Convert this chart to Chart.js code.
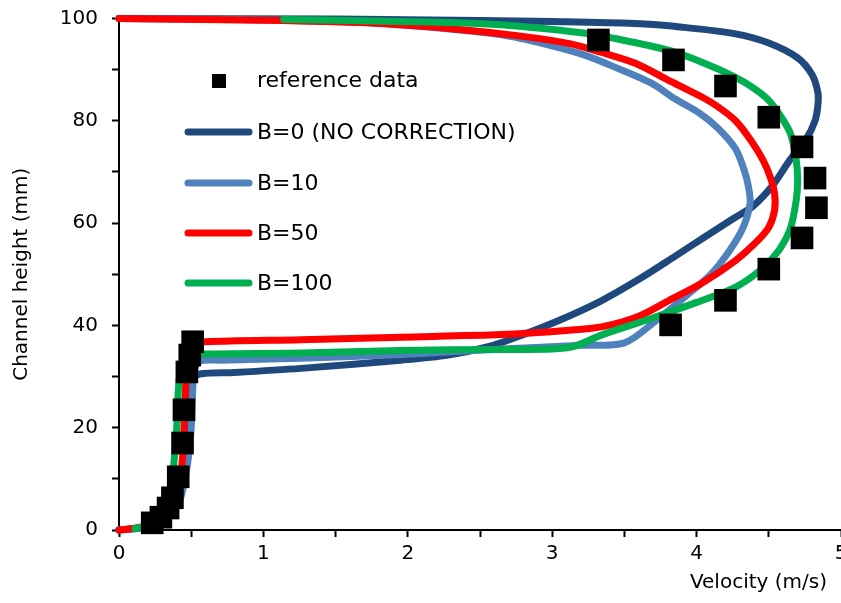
<!DOCTYPE html>
<html>
<head>
<meta charset="utf-8">
<script src="https://cdn.jsdelivr.net/npm/chart.js@4.4.1/dist/chart.umd.min.js"></script>
<style>
  body { margin: 0; background: #fff; overflow: hidden; }
  canvas { display: block; }
</style>
</head>
<body>
<canvas id="profile_chart" width="857" height="603"></canvas>
<script>
// reference data (squares)
var refVel    = [0.23, 0.29, 0.34, 0.37, 0.41, 0.44, 0.45, 0.47, 0.49, 0.51, 3.82, 4.20, 4.50, 4.73, 4.83, 4.82, 4.73, 4.50, 4.20, 3.84, 3.32];
var refHeight = [1.4, 2.5, 4.3, 6.3, 10.4, 17.0, 23.5, 30.9, 34.2, 36.8, 40.1, 44.9, 51.0, 57.1, 63.0, 68.8, 74.9, 80.7, 86.8, 91.9, 95.8];

// B=0 (no correction)
var b0Vel    = [0, 0.14, 0.24, 0.32, 0.39, 0.43, 0.46, 0.48, 0.49, 0.50, 0.56, 0.80, 1.26, 1.95, 2.28, 2.55, 2.79, 3.05, 3.34, 3.60, 3.85, 4.04, 4.25, 4.39, 4.53, 4.65, 4.76, 4.82, 4.84, 4.84, 4.80, 4.70, 4.50, 4.27, 3.90, 3.57, 3.00, 2.50, 1.50, 0];
var b0Height = [0, 0.4, 1.0, 2.4, 5.0, 9.0, 14.0, 20.0, 26.0, 29.3, 30.5, 30.8, 31.6, 33.2, 34.2, 35.8, 38.1, 41.0, 44.8, 49.0, 53.5, 57.0, 60.8, 63.3, 67.5, 72.5, 76.5, 80.0, 83.0, 85.5, 89.0, 92.3, 95.2, 97.0, 98.3, 99.0, 99.4, 99.6, 99.9, 100];

// B=10
var b10Vel    = [0, 0.15, 0.25, 0.33, 0.41, 0.45, 0.48, 0.50, 0.51, 0.52, 0.56, 0.70, 1.26, 1.95, 2.65, 3.20, 3.50, 3.70, 3.95, 4.10, 4.23, 4.32, 4.37, 4.36, 4.33, 4.27, 4.15, 4.02, 3.85, 3.69, 3.45, 3.23, 2.95, 2.65, 2.20, 1.60, 0.80, 0];
var b10Height = [0, 0.4, 1.0, 2.5, 5.0, 9.0, 14.0, 20.0, 27.0, 31.0, 33.0, 33.2, 33.6, 34.3, 35.4, 36.1, 36.6, 40.5, 46.3, 50.0, 54.7, 59.0, 63.8, 67.0, 70.3, 74.5, 78.5, 81.5, 84.3, 87.3, 90.3, 92.8, 95.0, 96.8, 98.2, 99.3, 99.8, 100];

// B=50
var b50Vel    = [0, 0.12, 0.22, 0.30, 0.37, 0.41, 0.44, 0.45, 0.46, 0.47, 0.50, 0.60, 1.26, 1.95, 2.65, 3.10, 3.34, 3.60, 3.81, 4.05, 4.27, 4.42, 4.50, 4.54, 4.54, 4.51, 4.46, 4.38, 4.27, 4.15, 4.04, 3.80, 3.58, 3.35, 3.12, 2.77, 2.30, 1.70, 1.14, 0];
var b50Height = [0, 0.4, 1.0, 2.2, 4.5, 8.0, 14.0, 20.0, 27.0, 33.0, 36.3, 36.8, 37.2, 37.7, 38.2, 39.0, 39.7, 41.8, 44.9, 48.5, 52.7, 56.5, 59.2, 62.5, 65.8, 69.0, 72.3, 76.0, 80.0, 82.7, 84.6, 88.0, 91.2, 93.3, 95.1, 96.6, 98.0, 99.2, 99.6, 100];

// B=100
var b100Vel    = [0.11, 0.20, 0.28, 0.33, 0.36, 0.38, 0.40, 0.41, 0.43, 0.47, 0.60, 1.26, 1.95, 2.65, 3.00, 3.15, 3.34, 3.69, 4.00, 4.27, 4.45, 4.57, 4.65, 4.69, 4.70, 4.69, 4.65, 4.58, 4.50, 4.40, 4.27, 4.05, 3.81, 3.50, 3.23, 2.77, 2.30, 1.60, 1.14];
var b100Height = [0.3, 0.8, 2.0, 4.0, 8.0, 13.0, 20.0, 27.0, 32.0, 34.0, 34.4, 34.6, 35.1, 35.3, 35.4, 35.9, 38.1, 41.4, 44.5, 47.5, 51.0, 54.7, 59.0, 64.5, 68.4, 72.3, 77.5, 81.0, 84.0, 86.3, 88.5, 91.3, 93.75, 95.7, 97.1, 98.5, 99.2, 99.6, 99.8];

var seriesNames = ['reference data', 'B=0 (NO CORRECTION)', 'B=10', 'B=50', 'B=100'];
var seriesColors = ['#000000', '#1F497D', '#4F81BD', '#FF0000', '#00B050'];

function pts(xs, ys) {
    return xs.map(function (x, i) { return {x: x, y: ys[i]}; });
}

function lineSet(label, color, xs, ys, order) {
    return {
        label: label,
        data: pts(xs, ys),
        showLine: true,
        borderColor: color,
        backgroundColor: color,
        borderWidth: 7,
        pointRadius: 0,
        tension: 0.3,
        borderCapStyle: 'round',
        borderJoinStyle: 'round',
        clip: false,
        order: order
    };
}

// legend drawn inside the plot, like the original
var insideLegend = {
    id: 'insideLegend',
    afterDraw: function (chart) {
        var c = chart.ctx;
        c.save();
        c.font = '22px "DejaVu Sans"';
        c.textBaseline = 'middle';
        c.textAlign = 'left';
        c.fillStyle = '#000';
        c.fillRect(212, 74, 14, 14);
        c.fillText(seriesNames[0], 257, 81);
        var ys = [132, 183, 233, 283];
        for (var i = 1; i < seriesNames.length; i++) {
            c.strokeStyle = seriesColors[i];
            c.lineWidth = 7;
            c.lineCap = 'round';
            c.beginPath();
            c.moveTo(188, ys[i - 1]);
            c.lineTo(249, ys[i - 1]);
            c.stroke();
            c.fillText(seriesNames[i], 257, ys[i - 1] + 1);
        }
        // x axis title, right aligned under the axis end
        c.font = '20px "DejaVu Sans"';
        c.textAlign = 'right';
        c.fillText('Velocity (m/s)', 827, 583);
        c.restore();
    }
};

var ctx = document.getElementById("profile_chart").getContext('2d');
var myChart = new Chart(ctx, {
    type: 'scatter',
    data: {
        datasets: [
            {
                label: seriesNames[0],
                data: pts(refVel, refHeight),
                pointStyle: 'rect',
                pointRadius: 16,
                pointHoverRadius: 16,
                backgroundColor: '#000',
                borderColor: '#000',
                borderWidth: 0,
                clip: false,
                order: 0
            },
            lineSet(seriesNames[1], seriesColors[1], b0Vel, b0Height, 4),
            lineSet(seriesNames[2], seriesColors[2], b10Vel, b10Height, 3),
            lineSet(seriesNames[3], seriesColors[3], b50Vel, b50Height, 2),
            lineSet(seriesNames[4], seriesColors[4], b100Vel, b100Height, 1)
        ]
    },
    options: {
        responsive: false,
        animation: false,
        layout: {
            padding: {top: 18.5, right: 1, left: 0, bottom: 0}
        },
        plugins: {
            legend: {display: false},
            tooltip: {enabled: false}
        },
        scales: {
            x: {
                type: 'linear',
                min: 0,
                max: 5,
                afterFit: function (s) { s.height = 73; s.paddingLeft = 0; s.paddingRight = 0; },
                ticks: {
                    stepSize: 0.5,
                    autoSkip: false,
                    maxRotation: 0,
                    padding: 5,
                    color: '#000',
                    font: {family: 'DejaVu Sans', size: 20},
                    callback: function (v) { return Number.isInteger(v) ? v : ''; }
                },
                grid: {
                    drawOnChartArea: false,
                    tickLength: 7,
                    tickColor: '#000',
                    tickWidth: 2
                },
                border: {color: '#000', width: 2}
            },
            y: {
                type: 'linear',
                min: 0,
                max: 100,
                afterFit: function (s) { s.width = 119; s.paddingTop = 0; s.paddingBottom = 0; },
                ticks: {
                    stepSize: 10,
                    autoSkip: false,
                    padding: 14,
                    color: '#000',
                    font: {family: 'DejaVu Sans', size: 20},
                    callback: function (v) { return v % 20 === 0 ? v : ''; }
                },
                grid: {
                    drawOnChartArea: false,
                    tickLength: 7,
                    tickColor: '#000',
                    tickWidth: 2
                },
                border: {color: '#000', width: 2},
                title: {
                    display: true,
                    text: 'Channel height (mm)',
                    color: '#000',
                    font: {family: 'DejaVu Sans', size: 20},
                    padding: {top: 10, bottom: 0}
                }
            }
        }
    },
    plugins: [insideLegend]
});
</script>
</body>
</html>
